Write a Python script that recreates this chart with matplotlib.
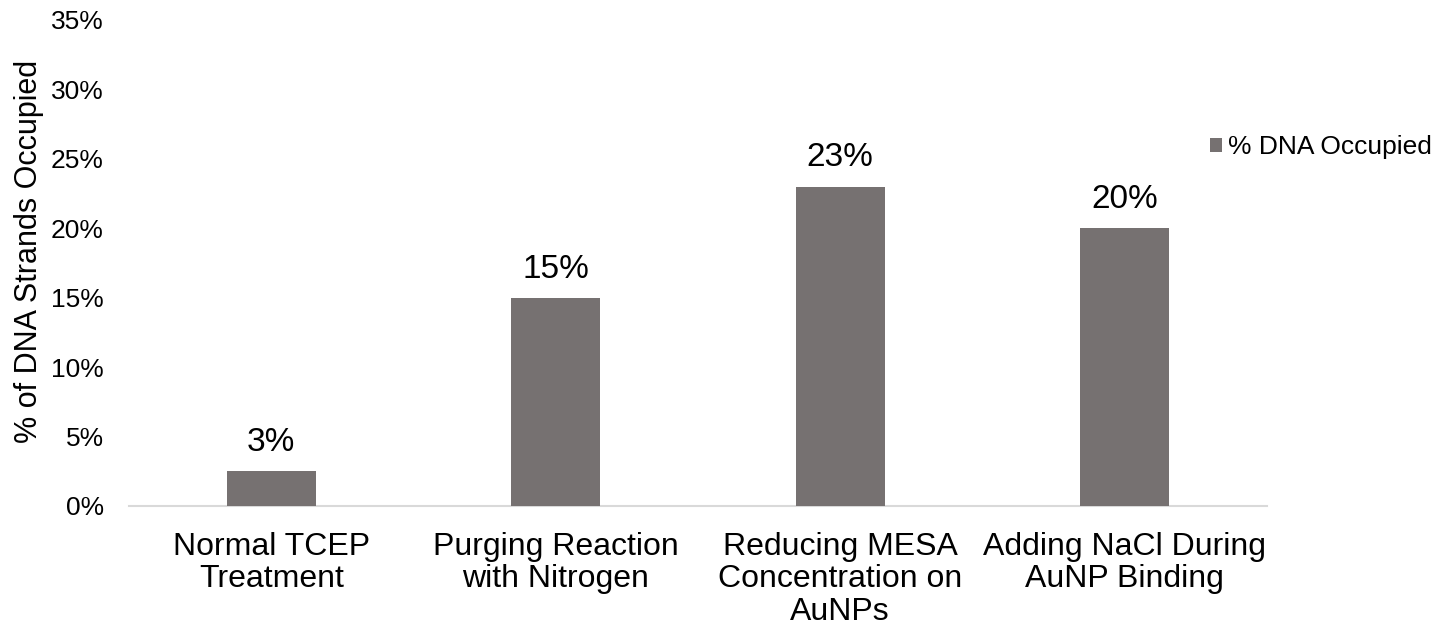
import matplotlib.pyplot as plt
from matplotlib.ticker import PercentFormatter

plt.rcParams['font.family'] = ['Liberation Sans', 'DejaVu Sans']

categories = ["Normal TCEP\nTreatment", "Purging Reaction\nwith Nitrogen",
              "Reducing MESA\nConcentration on\nAuNPs", "Adding NaCl During\nAuNP Binding"]
occupied = [2.5, 15, 23, 20]
value_labels = ["3%", "15%", "23%", "20%"]
yticks = [0, 5, 10, 15, 20, 25, 30, 35]

bar_color = "#767171"

fig = plt.figure(figsize=(14.41, 6.34), dpi=100)
ax = fig.add_axes([0.0895, 0.2019, 0.7897, 0.7666])

x = range(len(categories))
bars = ax.bar(x, occupied, width=0.313, color=bar_color, label="% DNA Occupied", zorder=3)

for rect, lab in zip(bars, value_labels):
    ax.annotate(lab, (rect.get_x() + rect.get_width() / 2, rect.get_height()),
                xytext=(0, 9.5), textcoords="offset points",
                ha="center", va="bottom", fontsize=24, color="#000000")

ax.set_xlim(-0.5, len(categories) - 0.5)
ax.set_ylim(0, 35)
ax.set_yticks(yticks)
ax.yaxis.set_major_formatter(PercentFormatter(decimals=0))
ax.set_xticks(list(x))
ax.set_xticklabels(categories, fontsize=23, linespacing=1.09)

ax.tick_params(axis="y", length=0, pad=18, labelsize=19, labelcolor="#000000")
ax.tick_params(axis="x", length=0, pad=19, labelcolor="#000000")

for side in ["top", "right", "left"]:
    ax.spines[side].set_visible(False)
ax.spines["bottom"].set_color("#D9D9D9")
ax.spines["bottom"].set_linewidth(1.5)

ax.set_ylabel("% of DNA Strands Occupied", fontsize=22, labelpad=5, y=0.523)

fig.legend(handles=[bars], labels=["% DNA Occupied"], loc="center left",
           bbox_to_anchor=(0.8397, 0.768), frameon=False, fontsize=19,
           borderpad=0, borderaxespad=0,
           handlelength=0.45, handleheight=0.45, handletextpad=0.25)

fig.savefig("out.png", dpi=100)
